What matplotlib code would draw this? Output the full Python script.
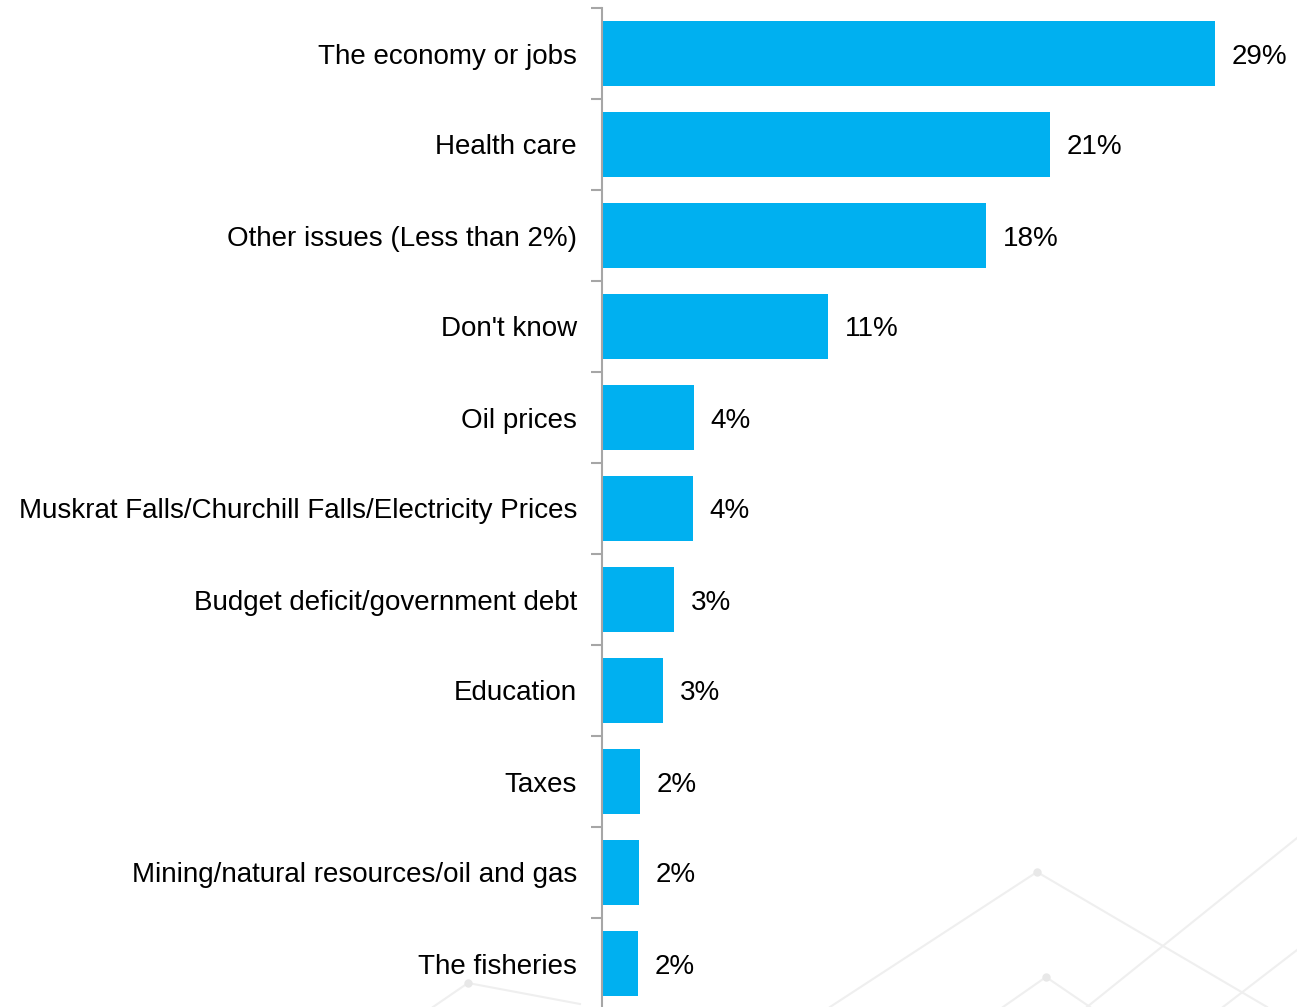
import matplotlib.pyplot as plt
from matplotlib.lines import Line2D

plt.rcParams['font.family'] = ['Liberation Sans', 'DejaVu Sans']

issues = [
    "The economy or jobs",
    "Health care",
    "Other issues (Less than 2%)",
    "Don't know",
    "Oil prices",
    "Muskrat Falls/Churchill Falls/Electricity Prices",
    "Budget deficit/government debt",
    "Education",
    "Taxes",
    "Mining/natural resources/oil and gas",
    "The fisheries",
]
shares = [29.0, 21.2, 18.2, 10.7, 4.35, 4.3, 3.4, 2.9, 1.8, 1.75, 1.7]

W, H = 1297, 1007
fig = plt.figure(figsize=(W / 100, H / 100), dpi=100)

# faint background network pattern
bg = [
    [(830, 1007), (1037, 872), (1267, 1007)],
    [(1087, 1007), (1297, 838)],
    [(1003, 1007), (1046, 977), (1090, 1007)],
    [(1223, 1007), (1297, 950)],
    [(433, 1007), (468, 983), (580, 1004)],
]
for pts in bg:
    xs = [p[0] / W for p in pts]
    ys = [1 - p[1] / H for p in pts]
    fig.add_artist(Line2D(xs, ys, color='#efefef', lw=1.5, zorder=0))
for px, py in [(1037, 872), (1046, 977), (468, 983)]:
    fig.add_artist(Line2D([px / W], [1 - py / H], marker='o', ms=5,
                          color='#e8e8e8', zorder=0))

ax = fig.add_axes([602 / W, 1 - 1009 / H, 1 - 602 / W, 1001 / H])
ax.patch.set_alpha(0)

y = list(range(len(issues)))
ax.barh(y, shares, height=0.72, color='#00b0f0', zorder=2)
for yi, v in zip(y, shares):
    ax.text(v + 0.8, yi, f"{v:.0f}%", va='center_baseline', ha='left',
            fontsize=20)

ax.set_ylim(len(issues) - 0.5, -0.5)
ax.set_xlim(0, 32.9)

ax.set_yticks([i - 0.5 for i in range(len(issues) + 1)])
ax.set_yticklabels([])
ax.set_yticks(y, minor=True)
ax.set_yticklabels(issues, minor=True, fontsize=20, va='center_baseline')
ax.tick_params(axis='y', which='minor', length=0, pad=18)
ax.tick_params(axis='y', which='major', length=8, width=1.5, color='#a6a6a6')
ax.set_xticks([])

for s in ['top', 'right', 'bottom']:
    ax.spines[s].set_visible(False)
ax.spines['left'].set_color('#a6a6a6')
ax.spines['left'].set_linewidth(1.5)

fig.savefig('out.png', dpi=100, facecolor='white')
